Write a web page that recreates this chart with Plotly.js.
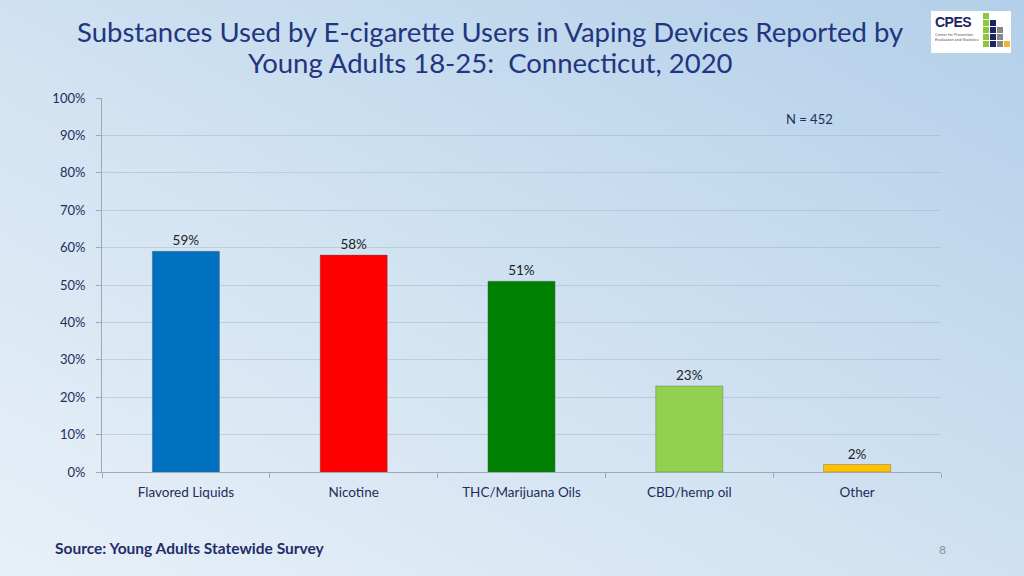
<!DOCTYPE html>
<html>
<head>
<meta charset="utf-8">
<script src="https://cdn.plot.ly/plotly-3.0.1.min.js"></script>
<style>
html,body{margin:0;padding:0;width:1024px;height:576px;overflow:hidden;}
body{background:linear-gradient(to top right,#e8f0f8 0%,#d2e3f2 45%,#b3cfe9 100%);position:relative;font-family:Lato,"Open Sans",sans-serif;}
#chart{position:absolute;left:0;top:0;width:1024px;height:576px;}
#logo{position:absolute;left:931px;top:11px;width:80px;height:42px;background:#fff;}
#logo .t{position:absolute;left:4px;top:3px;font:bold 14px "Liberation Sans",Arial,sans-serif;color:#1c2466;letter-spacing:-0.5px;}
#logo .s{position:absolute;left:4px;top:21px;font:4px "Liberation Sans",Arial,sans-serif;color:#555;line-height:5px;width:44px;}
#logo .q{position:absolute;width:6px;height:6px;}
</style>
</head>
<body>
<div id="chart"></div>
<div id="logo">
  <div class="t">CPES</div>
  <div class="s">Center for Prevention<br>Evaluation and Statistics</div>
</div>
<script>
const categories = ["Flavored Liquids", "Nicotine", "THC/Marijuana Oils", "CBD/hemp oil", "Other"];
const values = [59, 58, 51, 23, 2];
const labels = ["59%", "58%", "51%", "23%", "2%"];
const barColors = ["#0070C0", "#FF0000", "#008000", "#92D050", "#FFC000"];
const yTickVals = [0,10,20,30,40,50,60,70,80,90,100];
const yTickText = ["0%","10%","20%","30%","40%","50%","60%","70%","80%","90%","100%"];
const titleLines = ["Substances Used by E-cigarette Users in Vaping Devices Reported by", "Young Adults 18-25:  Connecticut, 2020"];

// logo squares
const logo = document.getElementById('logo');
const sq = [[52,2,'#8dc63f'],[52,9,'#8dc63f'],[59,9,'#1c2466'],[52,16,'#8dc63f'],[59,16,'#1c2466'],[66,16,'#888'],
            [52,23,'#8dc63f'],[59,23,'#1c2466'],[66,23,'#888'],[52,30,'#8dc63f'],[59,30,'#1c2466'],[66,30,'#888'],[73,30,'#f5b335']];
sq.forEach(s=>{const d=document.createElement('div');d.className='q';d.style.left=s[0]+'px';d.style.top=s[1]+'px';d.style.background=s[2];logo.appendChild(d);});

const F = 'Lato, "Open Sans", sans-serif';

const trace = {
  type: 'bar',
  x: categories,
  y: values,
  text: labels,
  textposition: 'outside',
  cliponaxis: false,
  textfont: {family: F, size: 13.5, color: '#222'},
  marker: {color: barColors, line: {color: 'rgba(90,90,90,0.35)', width: 1}},
  width: 0.4,
  hoverinfo: 'none'
};

const layout = {
  width: 1024, height: 576,
  paper_bgcolor: 'rgba(0,0,0,0)',
  plot_bgcolor: 'rgba(0,0,0,0)',
  margin: {l: 102, r: 83, t: 98, b: 104},
  showlegend: false,
  xaxis: {
    tickmode: 'array',
    tickson: 'boundaries',
    ticks: 'outside', ticklen: 5, tickcolor: '#a0a8b0',
    ticklabelstandoff: 8,
    showline: true, linecolor: '#a0a8b0', linewidth: 1,
    showgrid: false,
    tickfont: {family: F, size: 13.5, color: '#1f2d5a'},
    fixedrange: true
  },
  yaxis: {
    range: [0, 100],
    tickvals: yTickVals, ticktext: yTickText,
    ticks: 'outside', ticklen: 5, tickcolor: '#a0a8b0',
    ticklabelstandoff: 8,
    showline: true, linecolor: '#a0a8b0', linewidth: 1,
    showgrid: true, gridcolor: 'rgba(160,170,180,0.4)', gridwidth: 1,
    zeroline: false,
    tickfont: {family: F, size: 13, color: '#1f2d5a'},
    fixedrange: true
  },
  annotations: [
    {text: titleLines[0], xref: 'paper', yref: 'paper', x: (490-102)/839, y: 1, xanchor: 'center', yanchor: 'middle', yshift: 67, showarrow: false,
     font: {family: F, size: 27.5, color: '#22357f'}},
    {text: titleLines[1], xref: 'paper', yref: 'paper', x: (490-102)/839, y: 1, xanchor: 'center', yanchor: 'middle', yshift: 36, showarrow: false,
     font: {family: F, size: 27.5, color: '#22357f'}},
    {text: 'N = 452', xref: 'paper', yref: 'paper', x: 0.843, y: 0.945, xanchor: 'center', yanchor: 'middle', showarrow: false,
     font: {family: F, size: 13, color: '#1f2d5a'}},
    {text: '<b>Source: Young Adults Statewide Survey</b>', xref: 'paper', yref: 'paper', x: 0, y: 0, xanchor: 'left', yanchor: 'middle',
     xshift: -49, yshift: -76, showarrow: false,
     font: {family: F, size: 15.5, color: '#1f2d6a'}},
    {text: '8', xref: 'paper', yref: 'paper', x: 1, y: 0, xanchor: 'center', yanchor: 'middle', xshift: 1, yshift: -77, showarrow: false,
     font: {family: F, size: 12, color: '#8a9099'}}
  ]
};

Plotly.newPlot('chart', [trace], layout, {displayModeBar: false, staticPlot: true});
</script>
</body>
</html>
